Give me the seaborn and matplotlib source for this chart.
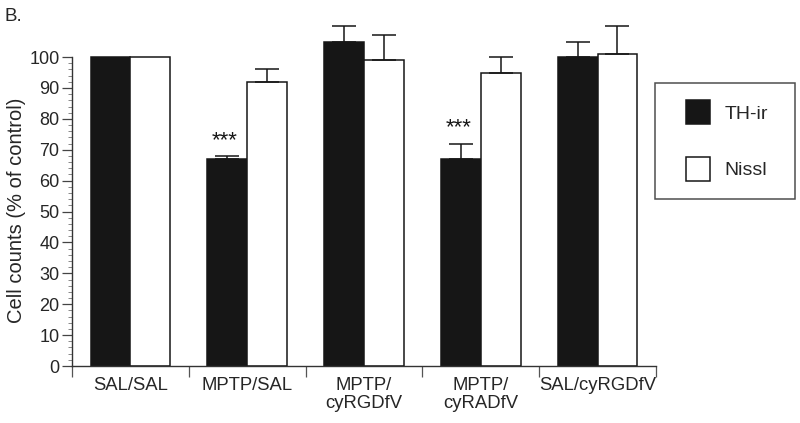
import matplotlib
matplotlib.use("Agg")
import matplotlib.pyplot as plt
import seaborn as sns
import pandas as pd
import numpy as np
from matplotlib.ticker import FixedLocator
from matplotlib.patches import Patch, Rectangle
from matplotlib.legend_handler import HandlerPatch

groups = ["SAL/SAL", "MPTP/SAL", "MPTP/\ncyRGDfV", "MPTP/\ncyRADfV", "SAL/cyRGDfV"]
series = ["TH-ir", "Nissl"]
th_values = [100, 67, 105, 67, 100]
th_err = [0, 1, 5, 5, 5]
nissl_values = [100, 92, 99, 95, 101]
nissl_err = [0, 4, 8, 5, 9]
sig_marks = ["", "***", "", "***", ""]

df = pd.DataFrame({
    "group": groups * 2,
    "series": [series[0]] * 5 + [series[1]] * 5,
    "value": th_values + nissl_values,
    "err": th_err + nissl_err,
})

sns.set_theme(style="ticks")
plt.rcParams["font.family"] = ["Liberation Sans", "DejaVu Sans"]

INK = "#161616"
fig = plt.figure(figsize=(8.0, 4.23), dpi=100)
ax = fig.add_axes([72 / 800, 57 / 423, (656 - 72) / 800, 346 / 423])

sns.barplot(data=df, x="group", y="value", hue="series", order=groups,
            hue_order=series, palette={"TH-ir": INK, "Nissl": "white"},
            edgecolor=INK, linewidth=1.1, width=0.68, errorbar=None,
            legend=False, ax=ax, saturation=1)

# error bars (upper only)
bars = [p for p in ax.patches if p.get_height() > 0]
for i, s in enumerate(series):
    sub = df[df["series"] == s].reset_index(drop=True)
    for j in range(len(groups)):
        p = bars[i * len(groups) + j]
        e = sub.loc[j, "err"]
        v = sub.loc[j, "value"]
        xc = p.get_x() + p.get_width() / 2
        if e > 0:
            ax.errorbar(xc, v, yerr=[[0], [e]], fmt="none", ecolor=INK,
                        elinewidth=1.1, capsize=8.5, capthick=1.1, zorder=1)
        if i == 0 and sig_marks[j]:
            ax.text(xc - 0.02, v + e + 1.6, sig_marks[j], ha="center", va="bottom",
                    fontsize=16, color=INK)

ax.set_xlim(-0.5, 4.5)
ax.set_ylim(0, 112)
ax.yaxis.set_major_locator(FixedLocator(np.arange(0, 101, 10)))
ax.yaxis.set_minor_locator(FixedLocator(np.arange(0, 101, 2)))
ax.xaxis.set_minor_locator(FixedLocator(np.arange(-0.5, 4.6, 1)))
ax.set_xticks(range(len(groups)))
ax.set_xticklabels(groups, linespacing=1.05)
ax.tick_params(axis="x", which="major", length=0, labelsize=13.3, pad=8)
ax.tick_params(axis="x", which="minor", length=8, width=0.9, color="#555555")
ax.tick_params(axis="y", which="major", length=7, width=0.9, labelsize=13, pad=2,
               color="#444444")
ax.tick_params(axis="y", which="minor", length=3, width=0.7, color="#888888")
ax.set_xlabel("")
ax.set_ylabel("Cell counts (% of control)", fontsize=14.5)
ax.yaxis.set_label_coords(-0.078, 0.45)
sns.despine(ax=ax)
ax.spines["left"].set_bounds(0, 100)
for sp in ["left", "bottom"]:
    ax.spines[sp].set_linewidth(1.0)
    ax.spines[sp].set_color("#333333")

fig.text(5 / 800, 1 - 8 / 423, "B.", fontsize=13.5, ha="left", va="top")

FS = 14
EM = FS * 100 / 72.0
SQ = 24 / EM
SHIFT = 11.5


def square_patch(legend, orig_handle, xdescent, ydescent, width, height, fontsize):
    side = SQ * fontsize
    return Rectangle((-xdescent + SHIFT * 72 / 100, -ydescent + (height - side) / 2),
                     side, side)


handles = [Patch(facecolor=INK, edgecolor=INK, linewidth=1.1),
           Patch(facecolor="white", edgecolor=INK, linewidth=1.1)]
leg = fig.legend(handles, series, loc="upper left",
                 bbox_to_anchor=(655 / 800, 1 - 198 / 423, 140 / 800, 115 / 423),
                 mode="expand", frameon=True, fontsize=FS,
                 handlelength=(SHIFT + 24) / EM, handleheight=SQ,
                 labelspacing=1.85, borderpad=0.98, handletextpad=0.75,
                 borderaxespad=0, fancybox=False,
                 handler_map={Patch: HandlerPatch(patch_func=square_patch)})
leg.get_frame().set_edgecolor("#222222")
leg.get_frame().set_linewidth(1.1)

fig.savefig("out.png", dpi=100)
